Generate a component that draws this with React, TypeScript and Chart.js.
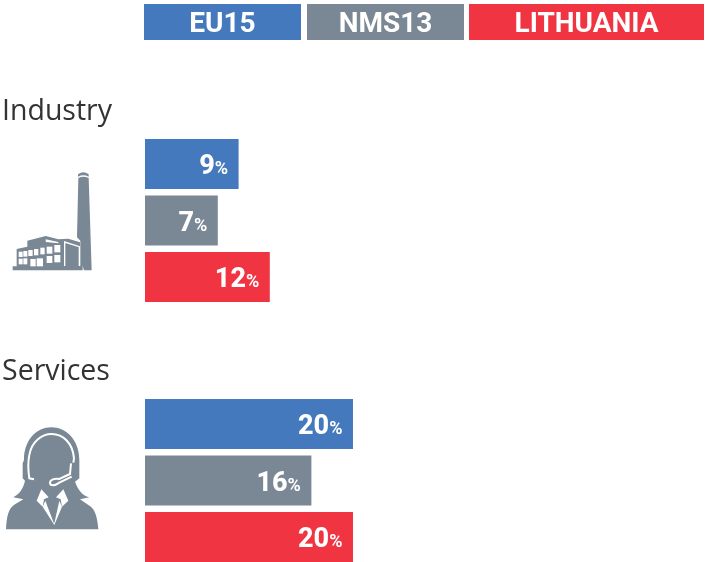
import React, { useEffect, useRef } from "react";
import { Chart, registerables } from "chart.js";

Chart.register(...registerables);

const categories = ["Industry", "Services"];
const seriesNames = ["EU15", "NMS13", "LITHUANIA"];
const eu15 = [9, 20];
const nms13 = [7, 16];
const lithuania = [12, 20];
const colours = ["#4479BD", "#7A8794", "#F03442"];

const legendBoxes = [
  { x: 144, w: 157 },
  { x: 307, w: 157 },
  { x: 469, w: 235 },
];

const overlay = {
  id: "overlay",
  afterDatasetsDraw(chart: any) {
    const { ctx } = chart;
    ctx.save();
    // legend
    ctx.textAlign = "center";
    ctx.textBaseline = "alphabetic";
    ctx.font = "700 28px Roboto";
    chart.data.datasets.forEach((ds: any, i: number) => {
      const b = legendBoxes[i];
      ctx.fillStyle = ds.backgroundColor;
      ctx.fillRect(b.x, 4, b.w, 36);
      ctx.fillStyle = "#fff";
      ctx.fillText(ds.label, b.x + b.w / 2, 32);
    });
    // category titles
    ctx.textAlign = "left";
    ctx.fillStyle = "#333";
    ctx.font = "400 28.5px 'Open Sans'";
    const yScale = chart.scales.y;
    chart.data.labels.forEach((label: string, i: number) => {
      ctx.fillText(label, 2, yScale.getPixelForTick(i) - 100.5);
    });
    // value labels
    ctx.fillStyle = "#fff";
    chart.data.datasets.forEach((ds: any, d: number) => {
      const meta = chart.getDatasetMeta(d);
      meta.data.forEach((bar: any, i: number) => {
        const y = bar.y + 10;
        const xEnd = bar.x - 10.5;
        ctx.textAlign = "right";
        ctx.font = "700 18px Roboto";
        ctx.fillText("%", xEnd, y);
        const pw = ctx.measureText("%").width;
        ctx.font = "800 27px Roboto";
        ctx.fillText(String(ds.data[i]), xEnd - pw, y);
      });
    });
    ctx.restore();
  },
};

function FactoryIcon() {
  return (
    <svg viewBox="0 0 420 390" width={140} height={130} style={{ position: "absolute", left: 0, top: 150 }}>
      <g fill="#7A8794">
        <path d="M234 73Q250 60 266 73L266 80Q250 72 234 80Z" />
        <path d="M235 84Q250 76 266 84L275 361L252 361L248 348L241 348L241 272L231 262Z" />
        <path d="M50 297L82 290L82 272L137 258L175 268L205 266L240 277L240 348L248 348L248 361L38 361L38 349L50 349Z" />
      </g>
      <g fill="#fff">
        <rect x={56} y={305} width={12} height={16} />
        <rect x={70} y={303} width={12} height={17} />
        <rect x={85} y={300} width={13} height={18} />
        <rect x={102} y={297} width={13} height={19} />
        <rect x={121} y={293} width={13} height={20} />
        <rect x={140} y={290} width={17} height={21} />
        <rect x={163} y={285} width={18} height={22} />
        <rect x={56} y={326} width={12} height={17} />
        <rect x={70} y={325} width={12} height={18} />
        <rect x={91} y={327} width={16} height={22} />
        <rect x={110} y={325} width={19} height={24} />
        <rect x={140} y={318} width={17} height={21} />
        <rect x={163} y={315} width={18} height={22} />
        <path d="M137 268L175 276L175 280L137 276Z" />
      </g>
      <path d="M194 348L194 276L238 290L238 348" fill="none" stroke="#fff" strokeWidth={4} />
    </svg>
  );
}

function AgentIcon() {
  return (
    <svg viewBox="0 0 420 390" width={140} height={130} style={{ position: "absolute", left: 0, top: 410 }}>
      <path
        fill="#7A8794"
        d="M18 358C20 320 25 295 45 283L70 268L40 262C60 250 70 235 75 212L68 205L68 160L72 150C72 90 110 52 154 52C198 52 238 90 238 150L238 205L225 215C235 240 245 255 268 262L240 268L265 285C285 295 292 320 295 358Z"
      />
      <g fill="none" stroke="#fff" strokeWidth={6}>
        <path d="M102 208L88 205C84 180 85 150 88 135C95 95 125 72 155 72C190 72 218 100 222 145L220 158" />
        <path d="M213 160L210 192L178 207C160 205 150 210 150 218C150 228 165 228 178 218L215 200" />
      </g>
      <g fill="#fff">
        <path d="M124 238L146 262L132 268L128 290L110 272Z" />
        <path d="M190 238L168 262L182 268L186 290L205 272Z" />
        <path d="M128 290L136 272L160 335Q162 342 164 335L178 272L186 290L163 345Z" />
      </g>
    </svg>
  );
}

export default function App() {
  const ref = useRef<HTMLCanvasElement>(null);
  useEffect(() => {
    document.body.style.margin = "0";
    const chart = new Chart(ref.current!, {
      type: "bar",
      data: {
        labels: categories,
        datasets: [eu15, nms13, lithuania].map((data, i) => ({
          label: seriesNames[i],
          data,
          backgroundColor: colours[i],
          borderWidth: 0,
          categoryPercentage: 0.652,
          barPercentage: 0.885,
          clip: false as any,
        })),
      },
      options: {
        indexAxis: "y",
        responsive: false,
        animation: false,
        layout: { padding: { left: 145, right: 0, top: 220.5, bottom: 81.5 } },
        plugins: { legend: { display: false }, tooltip: { enabled: false } },
        scales: {
          x: { display: false, min: 0, max: 53.85 },
          y: { display: false, offset: false, grid: { display: false } },
        },
      },
      plugins: [overlay],
    });
    return () => chart.destroy();
  }, []);
  return (
    <div style={{ position: "relative", width: 705, height: 562, overflow: "hidden" }}>
      <canvas ref={ref} width={705} height={562} style={{ display: "block" }} />
      <FactoryIcon />
      <AgentIcon />
    </div>
  );
}
